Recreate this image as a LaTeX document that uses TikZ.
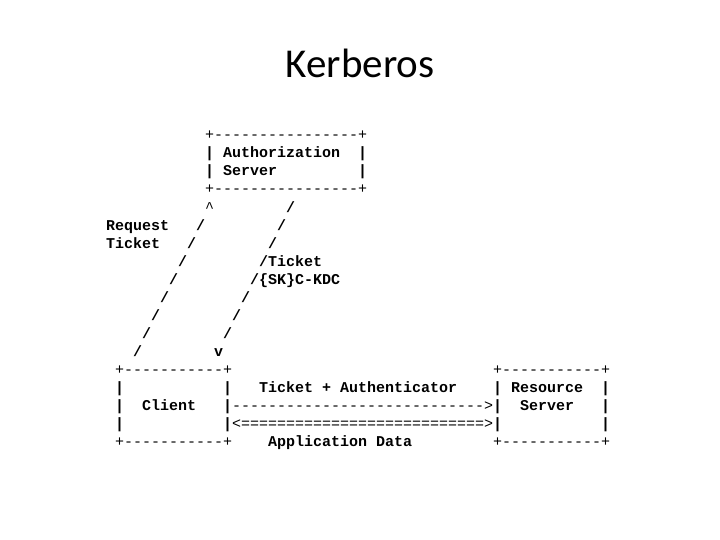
\documentclass[tikz,border=0pt]{standalone}
\usepackage{fontspec}
\newfontfamily\titlefont{Carlito}
\newfontfamily\monofont{Liberation Mono}
\tikzset{
  txt/.style={anchor=base west, inner sep=0pt, font=\monofont\bfseries\fontsize{15}{18}\selectfont},
  art/.style={anchor=base west, inner sep=0pt, font=\monofont\fontsize{15}{18}\selectfont},
  ttl/.style={anchor=base, inner sep=0pt, font=\titlefont\fontsize{41}{48}\selectfont}
}
\begin{document}
\begin{tikzpicture}[x=1pt,y=1pt]
\useasboundingbox[fill=white] (0,0) rectangle (720,-540);
\node[ttl] (title) at (360,-78) {Kerberos};
% Authorization server box
\node[art] (a1) at (205,-140) {+----------------+};
\node[txt] (a2l) at (205,-158) {|};
\node[txt] (a2t) at (223,-158) {Authorization};
\node[txt] (a2r) at (358,-158) {|};
\node[txt] (a3l) at (205,-176) {|};
\node[txt] (a3t) at (223,-176) {Server};
\node[txt] (a3r) at (358,-176) {|};
\node[art] (a4) at (205,-194) {+----------------+};
% slashes
\node[art] (s5a) at (205,-212) {\^{}};
\node[txt] (s5b) at (286,-212) {/};
\node[txt] (req) at (106,-230) {Request};
\node[txt] (s6a) at (196,-230) {/};
\node[txt] (s6b) at (277,-230) {/};
\node[txt] (tik) at (106,-248) {Ticket};
\node[txt] (s7a) at (187,-248) {/};
\node[txt] (s7b) at (268,-248) {/};
\node[txt] (s8a) at (178,-266) {/};
\node[txt] (s8b) at (259,-266) {/Ticket};
\node[txt] (s9a) at (169,-284) {/};
\node[txt] (s9b) at (250,-284) {/\{SK\}C-KDC};
\node[txt] (s10a) at (160,-302) {/};
\node[txt] (s10b) at (241,-302) {/};
\node[txt] (s11a) at (151,-320) {/};
\node[txt] (s11b) at (232,-320) {/};
\node[txt] (s12a) at (142,-338) {/};
\node[txt] (s12b) at (223,-338) {/};
\node[txt] (s13a) at (133,-356) {/};
\node[txt] (s13b) at (214,-356) {v};
% bottom row
\node[art] (c1) at (115,-374) {+-----------+};
\node[art] (r1) at (493,-374) {+-----------+};
\node[txt] (c2l) at (115,-392) {|};
\node[txt] (c2r) at (223,-392) {|};
\node[txt] (m2) at (259,-392) {Ticket + Authenticator};
\node[txt] (r2l) at (493,-392) {|};
\node[txt] (r2t) at (511,-392) {Resource};
\node[txt] (r2r) at (601,-392) {|};
\node[txt] (c3l) at (115,-410) {|};
\node[txt] (c3t) at (142,-410) {Client};
\node[txt] (c3r) at (223,-410) {|};
\node[art] (m3) at (232,-410) {---------------------------->};
\node[txt] (r3l) at (493,-410) {|};
\node[txt] (r3t) at (520,-410) {Server};
\node[txt] (r3r) at (601,-410) {|};
\node[txt] (c4l) at (115,-428) {|};
\node[txt] (c4r) at (223,-428) {|};
\node[art] (m4) at (232,-428) {<===========================>};
\node[txt] (r4l) at (493,-428) {|};
\node[txt] (r4r) at (601,-428) {|};
\node[art] (c5) at (115,-446) {+-----------+};
\node[txt] (m5) at (268,-446) {Application Data};
\node[art] (r5) at (493,-446) {+-----------+};
\end{tikzpicture}
\end{document}
